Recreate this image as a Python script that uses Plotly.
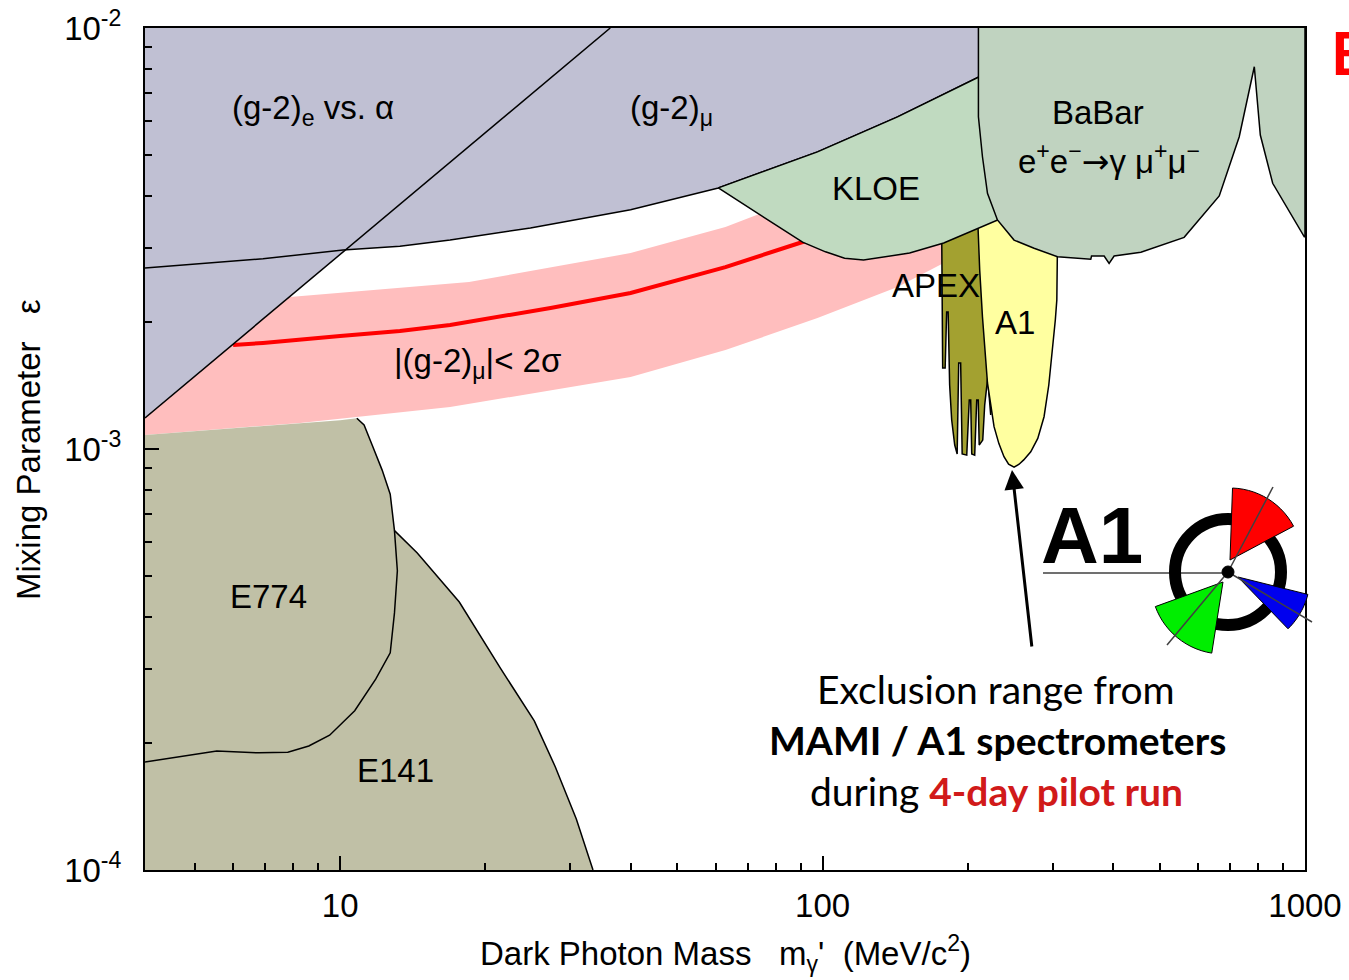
import math
import plotly.graph_objects as go

# ---------------- data (mass in MeV/c^2, epsilon) ----------------
# (g-2)_e vs alpha exclusion boundary
ge_mass = [3.94, 36.3]
ge_eps = [1.185e-3, 1.0e-2]

# (g-2)_mu exclusion boundary
gm_mass = [3.94, 6.92, 10.14, 13.3, 16.9, 24.8, 40.0, 60.8, 97.6, 143.0, 210.7]
gm_eps = [2.69e-3, 2.83e-3, 2.97e-3, 3.03e-3, 3.135e-3, 3.35e-3, 3.70e-3, 4.17e-3, 5.08e-3, 6.15e-3, 7.65e-3]

# |(g-2)_mu| < 2 sigma band
band_up_mass = [3.94, 7.91, 13.3, 18.5, 40.0, 62.9, 73.0, 99.1, 145.0, 193.0]
band_up_eps = [2.15e-3, 2.297e-3, 2.412e-3, 2.492e-3, 2.92e-3, 3.368e-3, 3.596e-3, 4.08e-3, 4.73e-3, 5.13e-3]
band_lo_mass = [3.94, 8.26, 16.9, 40.0, 62.9, 97.6, 143.0, 178.3, 193.0]
band_lo_eps = [1.08e-3, 1.153e-3, 1.258e-3, 1.483e-3, 1.718e-3, 2.047e-3, 2.425e-3, 2.765e-3, 2.89e-3]

# central (g-2)_mu preferred line
red_mass = [6.0, 6.92, 10.0, 13.3, 16.9, 27.3, 40.0, 62.9, 90.9, 114.4]
red_eps = [1.766e-3, 1.786e-3, 1.855e-3, 1.907e-3, 1.97e-3, 2.163e-3, 2.347e-3, 2.705e-3, 3.102e-3, 3.40e-3]

# beam dump region (E774 + E141 union)
ebd_mass = [3.94, 10.0, 10.83, 11.21, 11.65, 12.22, 12.70, 12.96, 14.45, 17.66, 21.55, 25.26, 27.93, 30.87, 33.43, 3.94]
ebd_eps = [1.08e-3, 1.17e-3, 1.183e-3, 1.14e-3, 1.022e-3, 8.91e-4, 7.81e-4, 6.40e-4, 5.66e-4, 4.33e-4, 3.00e-4, 2.26e-4, 1.757e-4, 1.322e-4, 1.0e-4, 1.0e-4]
# E774 lower edge (inside the beam-dump region)
e774_mass = [12.96, 13.14, 12.96, 12.70, 11.85, 10.72, 9.51, 8.61, 7.79, 6.78, 5.55, 4.73, 3.94]
e774_eps = [6.40e-4, 5.14e-4, 4.08e-4, 3.28e-4, 2.84e-4, 2.39e-4, 2.09e-4, 1.97e-4, 1.905e-4, 1.898e-4, 1.917e-4, 1.862e-4, 1.805e-4]

# KLOE
kloe_mass = [60.8, 74.4, 90.9, 101.4, 111.1, 121.6, 151.5, 178.3, 230.7, 225.0, 210.7, 143.0, 97.6, 60.8]
kloe_eps = [4.17e-3, 3.596e-3, 3.10e-3, 2.94e-3, 2.84e-3, 2.81e-3, 2.92e-3, 3.085e-3, 3.50e-3, 5.5e-3, 7.65e-3, 6.15e-3, 5.08e-3, 4.17e-3]

# BaBar e+e- -> gamma mu+ mu-
babar_mass = [210.4, 210.4, 214.5, 219.7, 230.4, 249.4, 274.4, 306.9, 359.7, 361.0, 383.4, 392.6, 402.1,
              456.9, 561.7, 664.1, 730.6, 785.1, 807.9, 857.1, 996.6, 1000.0, 1000.0]
babar_eps = [1.0e-2, 6.155e-3, 4.945e-3, 4.05e-3, 3.50e-3, 3.135e-3, 2.997e-3, 2.862e-3, 2.822e-3, 2.873e-3, 2.873e-3, 2.761e-3, 2.873e-3,
             2.933e-3, 3.182e-3, 3.99e-3, 5.517e-3, 8.09e-3, 5.568e-3, 4.277e-3, 3.192e-3, 3.192e-3, 1.0e-2]

# APEX
apex_mass = [176.6, 177.4, 179.5, 180.8, 182.1, 183.4, 185.2, 187.9, 190.1, 191.5, 193.3, 194.7, 199.0, 201.4,
             202.8, 203.8, 206.7, 208.7, 210.2, 211.2, 214.8, 216.8, 219.9, 223.1, 228.5, 223.1]
apex_eps = [3.206e-3, 1.557e-3, 1.557e-3, 2.115e-3, 2.115e-3, 1.419e-3, 1.172e-3, 1.022e-3, 9.73e-4, 1.601e-3, 1.601e-3, 9.73e-4, 9.67e-4, 1.307e-3,
            1.307e-3, 9.73e-4, 9.67e-4, 1.307e-3, 1.307e-3, 1.022e-3, 1.050e-3, 1.272e-3, 1.474e-3, 1.205e-3, 2.26e-3, 3.404e-3]

# A1 (MAMI)
a1_mass = [210.0, 211.7, 214.5, 216.8, 219.7, 226.7, 232.0, 237.7, 243.0, 249.4, 255.5, 261.2, 270.1, 279.3, 287.8, 294.4, 299.6,
           303.7, 305.9, 306.9, 306.9, 249.0, 230.7, 209.7]
a1_eps = [3.362e-3, 2.66e-3, 2.062e-3, 1.718e-3, 1.435e-3, 1.130e-3, 1.03e-3, 9.59e-4, 9.2e-4, 9.05e-4, 9.2e-4, 9.42e-4, 9.85e-4, 1.06e-3, 1.193e-3, 1.419e-3, 1.718e-3,
          2.025e-3, 2.26e-3, 2.862e-3, 3.135e-3, 3.404e-3, 3.656e-3, 3.537e-3]

# axis ticks
x_major = [10, 100, 1000]
x_major_text = ["10", "100", "1000"]
x_minor = [5, 6, 7, 8, 9, 20, 30, 40, 50, 60, 70, 80, 90, 200, 300, 400, 500, 600, 700, 800, 900]
y_major = [1e-4, 1e-3, 1e-2]
y_major_text = ["10<sup>-4</sup>", "10<sup>-3</sup>", "10<sup>-2</sup>"]
y_minor = [2e-4, 3e-4, 4e-4, 5e-4, 6e-4, 7e-4, 8e-4, 9e-4, 2e-3, 3e-3, 4e-3, 5e-3, 6e-3, 7e-3, 8e-3, 9e-3]

# ---------------- figure geometry ----------------
W, H = 1349, 980
ML, MR, MT, MB = 145, 44, 28, 110
PW, PH = W - ML - MR, H - MT - MB


def P(px, py):
    return (px - ML) / PW, (H - MB - py) / PH


FONT = "Liberation Sans, Arial, Helvetica, sans-serif"
SFONT = "Lato, Open Sans, sans-serif"
FS = 33

fig = go.Figure()


def poly(xs, ys, fill, lw=0.0):
    fig.add_trace(go.Scatter(
        x=xs, y=ys, mode="lines", fill="toself", fillcolor=fill,
        line=dict(color="black" if lw else "rgba(0,0,0,0)", width=lw),
        hoverinfo="skip", showlegend=False))


def line(xs, ys, color="black", lw=1.5):
    fig.add_trace(go.Scatter(
        x=xs, y=ys, mode="lines", line=dict(color=color, width=lw),
        hoverinfo="skip", showlegend=False))


LAV = "#c0c0d3"
# band
poly(band_up_mass + band_lo_mass[::-1], band_up_eps + band_lo_eps[::-1], "#ffbebe")
line(red_mass, red_eps, "#ff0000", 4)
# (g-2) regions
poly(ge_mass + [ge_mass[0]], ge_eps + [ge_eps[-1]], LAV)
poly(gm_mass + [gm_mass[-1], gm_mass[0]], gm_eps + [1e-2, 1e-2], LAV)
line(ge_mass, ge_eps)
line(gm_mass, gm_eps)
# beam dumps
poly(ebd_mass, ebd_eps, "#c0c0a6")
line(ebd_mass[2:15], ebd_eps[2:15])
line(e774_mass, e774_eps)
# APEX, A1, KLOE, BaBar
poly(apex_mass, apex_eps, "#a3a130", 1.5)
poly(a1_mass, a1_eps, "#ffffa0", 1.5)
poly(kloe_mass, kloe_eps, "#c0dac0", 1.5)
poly(babar_mass, babar_eps, "#c0d3c0", 1.5)

# ---------------- labels ----------------
ann = []


def label(text, px, py, size=FS, font=FONT, color="black", **kw):
    x, y = P(px, py)
    ann.append(dict(text=text, x=x, y=y, xref="paper", yref="paper", showarrow=False,
                    xanchor=kw.pop("xanchor", "center"), yanchor=kw.pop("yanchor", "middle"),
                    font=dict(family=font, size=size, color=color), **kw))


label("(g-2)<sub>e</sub> vs. α", 313, 110)
label("(g-2)<sub>μ</sub>", 671, 110)
label("KLOE", 876, 189)
label("BaBar", 1098, 112)
label("e<sup>+</sup>e<sup>−</sup><span style='font-family:DejaVu Sans'>→</span>γ μ<sup>+</sup>μ<sup>−</sup>", 1109, 160)
label("APEX", 936, 285)
label("A1", 1015, 322)
label("|(g-2)<sub>μ</sub>|< 2σ", 477, 363)
label("E774", 268, 597)
label("E141", 395, 770)

label("Exclusion range from", 996, 689, size=39, font=SFONT)
label("<b>MAMI / A1 spectrometers</b>", 997, 740, size=39, font=SFONT)
label("during <b><span style='color:#d11a1a'>4-day pilot run</span></b>", 996, 791, size=39, font=SFONT)

label("Dark Photon Mass\u00a0\u00a0\u00a0m<sub>γ</sub>'\u00a0\u00a0(MeV/c<sup>2</sup>)", 725, 953)
label("Mixing Parameter\u00a0\u00a0\u00a0ε", 28, 450, textangle=-90)

label("<b>E</b>", 1329, 52, size=60, font=SFONT, color="#ff0000", xanchor="left")
label("<b>A1</b>", 1092, 535, size=80, font=FONT)

# arrow
tx, ty = P(1012, 470)
ann.append(dict(text="", x=tx, y=ty, xref="paper", yref="paper", showarrow=True,
                ax=20, ay=178, arrowhead=2, arrowsize=1.3, arrowwidth=3, arrowcolor="black"))

# ---------------- A1 logo shapes ----------------
shapes = []


def path_of(pts):
    s = ""
    for i, (px, py) in enumerate(pts):
        x, y = P(px, py)
        s += ("M" if i == 0 else "L") + f"{x:.5f},{y:.5f} "
    return s + "Z"


def sector(ax_, ay_, r, a0, a1, n=14):
    pts = [(ax_, ay_)]
    for i in range(n + 1):
        a = math.radians(a0 + (a1 - a0) * i / n)
        pts.append((ax_ + r * math.cos(a), ay_ - r * math.sin(a)))
    return pts


cx, cy = 1228, 572
shapes.append(dict(type="line", xref="paper", yref="paper",
                   x0=P(1043, 573)[0], y0=P(1043, 573)[1], x1=P(cx, 573)[0], y1=P(cx, 573)[1],
                   line=dict(color="#707070", width=2)))
x0, y0 = P(cx - 53, cy + 53)
x1, y1 = P(cx + 53, cy - 53)
shapes.append(dict(type="circle", xref="paper", yref="paper", x0=x0, y0=y0, x1=x1, y1=y1,
                   line=dict(color="black", width=12)))
for (ax_, ay_, a0, a1, col) in [(1230, 560, 28, 88, "#ff0000"), (1223, 582, 200, 261, "#00ee00"),
                                (1238, 577, -46, -14, "#0000ee")]:
    shapes.append(dict(type="path", xref="paper", yref="paper", path=path_of(sector(ax_, ay_, 72, a0, a1)),
                       fillcolor=col, line=dict(color="black", width=1)))
for (ex, ey) in [(1273, 487), (1167, 645), (1312, 622)]:
    a, b = P(cx, cy)
    c, d = P(ex, ey)
    shapes.append(dict(type="line", xref="paper", yref="paper", x0=a, y0=b, x1=c, y1=d,
                       line=dict(color="#404040", width=1.5)))
hx0, hy0 = P(cx - 6, cy + 6)
hx1, hy1 = P(cx + 6, cy - 6)
shapes.append(dict(type="circle", xref="paper", yref="paper", x0=hx0, y0=hy0, x1=hx1, y1=hy1,
                   fillcolor="black", line=dict(color="black", width=1)))

axis_common = dict(showline=True, linewidth=2, linecolor="black", mirror=True, showgrid=False,
                   zeroline=False, ticks="inside", tickwidth=2, tickcolor="black", ticklen=14,
                   automargin=False, tickfont=dict(family=FONT, size=FS, color="black"))

fig.update_layout(
    width=W, height=H, margin=dict(l=ML, r=MR, t=MT, b=MB, autoexpand=False),
    paper_bgcolor="white", plot_bgcolor="white", showlegend=False,
    xaxis=dict(type="log", range=[math.log10(3.94), 3], tickmode="array", tickvals=x_major,
               ticktext=x_major_text, ticklabelstandoff=5,
               minor=dict(tickmode="array", tickvals=x_minor, ticks="inside", ticklen=7,
                          tickwidth=1.5, tickcolor="black", showgrid=False),
               **axis_common),
    yaxis=dict(type="log", range=[-4, -2], tickmode="array", tickvals=y_major,
               ticktext=y_major_text, ticklabelstandoff=15,
               minor=dict(tickmode="array", tickvals=y_minor, ticks="inside", ticklen=7,
                          tickwidth=1.5, tickcolor="black", showgrid=False),
               **axis_common),
    annotations=ann, shapes=shapes,
)

fig.write_html("out.html", config={"displayModeBar": False},
               post_script="document.body.style.margin='0';document.body.style.overflow='hidden';")
